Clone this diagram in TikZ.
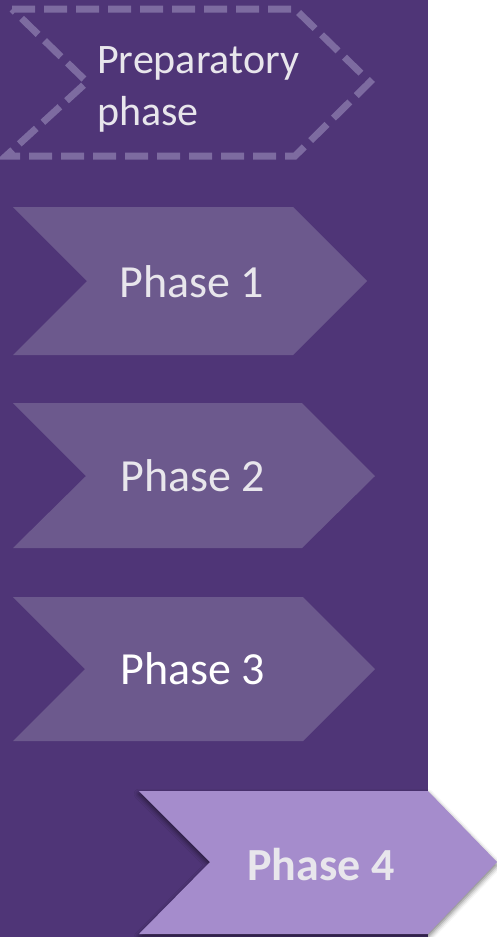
\documentclass[tikz,border=0pt]{standalone}
\usepackage{fontspec}
\setmainfont{Carlito}
\usepackage{tikz}
\usetikzlibrary{shadows.blur}
\usepackage{xcolor}

\definecolor{bgpurple}{HTML}{4F3577}
\definecolor{phasepurple}{HTML}{6C598D}
\definecolor{activepurple}{HTML}{A58CCC}
\definecolor{dashpurple}{HTML}{7D6BA0}
\definecolor{labelgray}{HTML}{E8E6EC}

\begin{document}
\begin{tikzpicture}[
        x=1pt, y=-1pt,
        chevron/.style={
          fill=phasepurple
        },
        current/.style={
          fill=activepurple,
          blur shadow={shadow xshift=0pt, shadow yshift=-3pt,
            shadow blur radius=5pt, shadow opacity=55}
        },
        outline/.style={
          draw=dashpurple,
          line width=7pt,
          dash pattern=on 23pt off 9pt
        },
        label/.style={
          inner sep=0pt,
          anchor=base,
          text=labelgray,
          font=\fontsize{46}{55}\selectfont
        }
      ]
      \useasboundingbox (0,0) rectangle (497,937);

      % Background panel
      \fill[bgpurple] (0,0) rectangle (428,937);

      % Preparatory phase
      \draw[outline] (12,9) -- (295,9) -- (370,82) -- (295,156) -- (6,156) -- (87,82) -- cycle;
      \node[label, anchor=base west, align=left, font=\fontsize{42}{52}\selectfont] (prep) at (97,125) {Preparatory\\phase};

      % Phases
      \fill[chevron] (13,207) -- (293,207) -- (367,281) -- (293,355) -- (13,355) -- (87,281) -- cycle;
      \fill[chevron] (13,403) -- (302,403) -- (375,476) -- (302,548) -- (13,548) -- (86,476) -- cycle;
      \fill[chevron] (13,597) -- (303,597) -- (375,669) -- (303,741) -- (13,741) -- (85,669) -- cycle;
      \fill[current] (139,791) -- (428,791) -- (497,862) -- (428,934) -- (139,934) -- (210,862) -- cycle;

      \node[label] (phaseone) at (192,297) {Phase 1};
      \node[label] (phasetwo) at (193,491) {Phase 2};
      \node[label, text=white] (phasethree) at (193,684) {Phase 3};
      \node[label, font=\fontsize{46}{55}\selectfont\bfseries] (phasefour) at (321,880) {Phase 4};

    \end{tikzpicture}
\end{document}
